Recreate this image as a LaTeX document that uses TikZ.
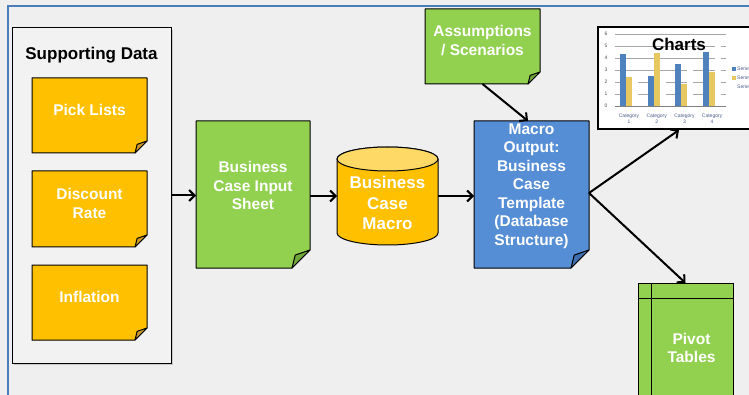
\documentclass[tikz,border=0pt]{standalone}
\usepackage{fontspec}
\setmainfont{Liberation Sans}
\usetikzlibrary{arrows.meta,calc}
\pgfdeclarelayer{back}
\pgfdeclarelayer{shape}
\pgfsetlayers{back,shape,main}
\definecolor{bgc}{HTML}{EFEFEF}
\definecolor{frameblue}{HTML}{4A7EBB}
\definecolor{orng}{HTML}{FFC000}
\definecolor{orngfold}{HTML}{CE9B2A}
\definecolor{orngtop}{HTML}{FFD966}
\definecolor{grn}{HTML}{92D050}
\definecolor{grnfold}{HTML}{6FA83A}
\definecolor{blu}{HTML}{558ED5}
\definecolor{blufold}{HTML}{3F6FB0}
\definecolor{barblue}{HTML}{4F81BD}
\definecolor{baryel}{HTML}{E6C760}
\definecolor{chtxt}{HTML}{4A5E8C}
\tikzset{
  box/.style={draw=none,fill=none,inner sep=0pt,outer sep=0pt},
  notetext/.style={text=white,font=\fontsize{15.5}{18.5}\selectfont\bfseries,align=center,inner sep=0pt},
  flow/.style={line width=2pt,-{Straight Barb[length=5.5pt,width=11pt]}},
  tiny/.style={font=\fontsize{5}{5.6}\selectfont,inner sep=0pt,align=center},
}
\newcommand\foldnote[9]{%
  \node[box,minimum width=#4pt,minimum height=#5pt] (#1) at (#2,#3) {};
  \begin{pgfonlayer}{shape}
    \draw[fill=#6,line width=1pt,line join=round] (#1.north west) -- (#1.north east) -- ([yshift=#8pt]#1.south east) -- ([xshift=-#8pt]#1.south east) -- (#1.south west) -- cycle;
    \draw[fill=#7,line width=1pt,line join=round] ([xshift=-#8pt]#1.south east) -- ([xshift=-0.82*#8pt,yshift=0.72*#8pt]#1.south east) -- ([yshift=#8pt]#1.south east) -- cycle;
  \end{pgfonlayer}
  \node[notetext] at ([yshift=0.48*#8pt]#1.center) {#9};
}
\begin{document}
\begin{tikzpicture}[x=1pt,y=-1pt]
\useasboundingbox (0,0) rectangle (749,395);
\clip (0,0) rectangle (749,395);
\begin{pgfonlayer}{back}
  \fill[bgc] (0,0) rectangle (749,395);
  \draw[frameblue,line width=2.5pt] (8,400) -- (8,6) -- (760,6);
  % supporting data box
  \fill[black!22] (14,30) rectangle (173,365);
  \draw[fill=black!5,line width=1pt] (12,28) rectangle (171,363);
\end{pgfonlayer}
\node[box,minimum width=159pt,minimum height=335pt] (sd) at (91.5,195.5) {};
\node[font=\fontsize{17}{20}\selectfont\bfseries,inner sep=0pt] (sdtitle) at (91.5,55) {Supporting Data};

\foldnote{pick}{89.5}{115.5}{115}{75}{orng}{orngfold}{12}{Pick Lists}
\foldnote{disc}{89.5}{209}{115}{76}{orng}{orngfold}{12}{Discount\\Rate}
\foldnote{infl}{89.5}{302.5}{115}{75}{orng}{orngfold}{12}{Inflation}
\foldnote{input}{253}{194.5}{114}{147}{grn}{grnfold}{18}{Business\\Case Input\\Sheet}
\foldnote{output}{531.5}{194.5}{115}{147}{blu}{blufold}{18}{Macro\\Output:\\Business\\Case\\Template\\(Database\\Structure)}
\foldnote{assum}{482.5}{46.5}{115}{75}{grn}{grnfold}{12}{Assumptions\\/ Scenarios}

% cylinder
\node[box,minimum width=101pt,minimum height=98pt] (macro) at (387.5,196) {};
\begin{pgfonlayer}{shape}
  \draw[fill=orng,line width=1pt] (337,159) -- (337,233) arc[start angle=180,end angle=360,x radius=50.5pt,y radius=12pt] -- (438,159) arc[start angle=0,end angle=180,x radius=50.5pt,y radius=12pt] -- cycle;
  \draw[fill=orngtop,line width=1pt] (387.5,159) ellipse[x radius=50.5pt,y radius=12pt];
\end{pgfonlayer}
\node[notetext,font=\fontsize{17}{20.5}\selectfont\bfseries] at ([yshift=-7pt]macro.center) {Business\\Case\\Macro};

% chart
\node[box,minimum width=158pt,minimum height=102pt] (charts) at (677,78) {};
\begin{pgfonlayer}{shape}
  \draw[fill=white,line width=1.2pt] (598,27) rectangle (756,129);
  \foreach \k in {0,...,6} {
    \draw[black!35,line width=0.8pt] (615,106-12*\k) -- (726,106-12*\k);
    \node[tiny,text=black!70] at (606,106-12*\k) {\k};
  }
  \foreach \i/\a/\b/\c in {0/4.3/2.4/2,1/2.5/4.4/2,2/3.5/1.8/3,3/4.5/2.8/5} {
    \pgfmathsetmacro\cx{629+27.7*\i}
    \fill[barblue] (\cx-9,106) rectangle (\cx-3,106-12*\a);
    \fill[baryel] (\cx-3,106) rectangle (\cx+3,106-12*\b);
    \fill[white] (\cx+3,106) rectangle (\cx+9,106-12*\c);
  }
  \draw[black!50,line width=0.8pt] (615,106) -- (726,106);
  \foreach \i in {1,...,4} {
    \node[tiny,text=chtxt] at (629+27.7*\i-27.7,118.5) {Category\\\i};
  }
  \fill[barblue] (732,67.5) rectangle (735.5,71);
  \fill[baryel] (732,76.5) rectangle (735.5,80);
  \fill[white] (732,85.5) rectangle (735.5,89);
  \node[tiny,anchor=west,text=chtxt] at (737,69.2) {Serie};
  \node[tiny,anchor=west,text=chtxt] at (737,78.2) {Serie};
  \node[tiny,anchor=west,text=chtxt] at (737,87.2) {Serie};
\end{pgfonlayer}
\node[font=\fontsize{17}{20}\selectfont\bfseries,inner sep=0pt] at (679,44) {Charts};

% pivot tables
\node[box,minimum width=95pt,minimum height=140pt] (pivot) at (685.5,353) {};
\begin{pgfonlayer}{shape}
  \draw[fill=grn,line width=1pt] (638,283) rectangle (733,430);
  \draw[line width=1pt] (651,283) -- (651,430);
  \draw[line width=1pt] (638,298) -- (733,298);
\end{pgfonlayer}
\node[notetext] at (691.5,348) {Pivot\\Tables};

% connectors
\draw[flow] (sd.east) -- (sd.east -| input.west);
\draw[flow] (macro.west -| input.east) -- (macro.west);
\draw[flow] (macro.east) -- (macro.east -| output.west);
\draw[flow] (assum.south) -- ([xshift=-3.5pt]output.north);
\draw[flow] ([yshift=1.5pt]output.east) -- ([xshift=2pt,yshift=-1pt]charts.south);
\draw[flow] ([yshift=1.5pt]output.east) -- (pivot.north);
\end{tikzpicture}
\end{document}
